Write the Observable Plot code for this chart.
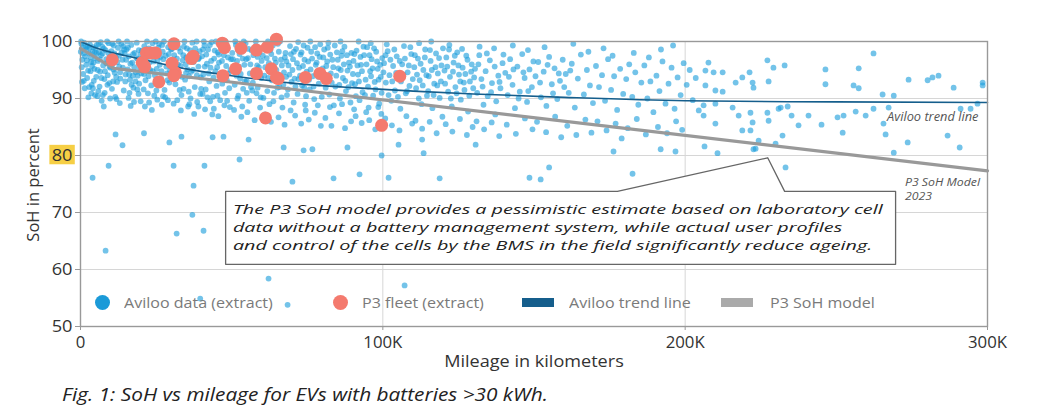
<!DOCTYPE html>
<html>
<head>
<meta charset="utf-8">
<script src="https://cdn.jsdelivr.net/npm/d3@7"></script>
<script src="https://cdn.jsdelivr.net/npm/@observablehq/plot@0.6"></script>
<style>
  html, body { margin: 0; padding: 0; background: #fff; }
  #wrap { position: relative; width: 1054px; height: 406px; font-family: "Open Sans", sans-serif; overflow: hidden; }
  .leg { position: absolute; top: 291px; height: 22px; line-height: 22px; font-size: 15px; color: #7a7a7a; white-space: nowrap; transform-origin: 0 50%; }
  .sw { position: absolute; }
  #caption { position: absolute; left: 62px; top: 382px; font-size: 18px; line-height: 24px; font-style: italic; color: #222; white-space: nowrap; transform-origin: 0 50%; }
  #ylab { position: absolute; left: -67px; top: 174px; width: 200px; text-align: center; font-size: 16.5px; line-height: 22px; color: #333; transform: rotate(-90deg); white-space: nowrap; }
</style>
</head>
<body>
<div id="wrap"></div>
<script>
// ---------------- DATA (mileage in thousand km, SoH in %) ----------------
const xTicks = [0, 100, 200, 300];
const yTicks = [50, 60, 70, 80, 90, 100];
const xGrid = [100, 200];
const yGrid = [60, 70, 80, 90];

const avilooDense = [
[0.3,99.6],[0.8,98.9],[1.2,99.8],[1.5,97.4],[2.0,98.6],[2.4,99.2],[0.6,96.8],[1.9,95.9],[2.8,97.9],[3.1,99.5],[3.5,96.4],[3.9,98.2],[4.2,99.0],[4.6,95.2],[4.9,97.1],[0.9,94.3],[2.2,93.6],[3.3,94.8],[4.4,93.1],[1.4,91.8],[3.7,92.4],[4.8,90.6],[2.6,90.2],[0.5,92.9],[5.0,98.8],
[5.4,99.4],[5.8,96.6],[6.1,98.1],[6.5,94.7],[6.8,97.6],[7.2,99.1],[7.5,95.8],[7.9,93.4],[8.3,98.5],[8.6,96.2],[9.0,94.1],[9.3,99.7],[9.7,97.3],[6.3,92.1],[8.0,91.0],[9.5,92.7],[5.6,90.4],[7.0,89.6],[9.9,95.4],[8.8,100.0],[6.7,99.9],[5.2,93.8],
[10.2,98.3],[10.6,96.0],[11.0,99.3],[11.3,94.5],[11.7,97.2],[12.1,92.9],[12.4,98.9],[12.8,95.6],[13.2,93.5],[13.5,99.6],[13.9,96.8],[14.3,91.4],[14.6,97.9],[11.5,90.3],[13.0,89.2],[14.9,94.2],[10.8,93.0],[12.6,100.0],[14.1,99.2],[10.4,91.7],
[15.2,98.6],[15.6,95.1],[16.0,97.4],[16.4,93.3],[16.8,99.4],[17.1,96.3],[17.5,91.9],[17.9,98.0],[18.3,94.6],[18.6,99.8],[19.0,96.9],[19.4,92.6],[19.8,97.7],[15.9,90.1],[17.7,89.4],[19.2,90.8],[16.6,88.7],[18.9,94.0],[15.4,100.0],[17.3,94.0],
[20.3,98.4],[20.7,95.7],[21.1,99.2],[21.5,93.2],[21.9,97.0],[22.3,90.9],[22.6,98.8],[23.0,95.0],[23.4,92.3],[23.8,99.7],[24.2,96.5],[24.6,94.1],[25.0,97.8],[25.4,89.8],[25.8,98.9],[26.2,95.9],[26.6,93.6],[27.0,99.4],[27.4,96.9],[27.8,91.5],[28.2,97.5],[28.6,94.4],[29.0,99.0],[29.4,92.8],[29.8,96.1],[21.3,88.6],[23.6,88.0],[26.9,88.9],[28.9,89.7],[22.0,100.0],[24.9,100.0],[27.6,100.0],[20.9,91.6],[25.6,93.0],[29.6,94.9],[22.8,96.3],[26.4,97.3],[24.4,90.5],[28.0,90.2],[20.1,94.4],
[30.2,98.7],[30.6,95.3],[31.0,97.6],[31.4,92.5],[31.8,99.5],[32.2,96.0],[32.6,94.0],[33.0,98.2],[33.4,90.6],[33.8,96.7],[34.2,99.1],[34.6,93.3],[35.0,97.2],[35.4,95.1],[35.8,91.2],[36.2,98.5],[36.6,94.7],[37.0,99.8],[37.4,96.4],[37.8,92.0],[38.2,97.9],[38.6,89.4],[39.0,95.6],[39.4,98.3],[39.8,93.7],[30.8,89.1],[33.2,87.9],[35.6,88.6],[37.6,87.3],[39.6,90.8],[31.6,100.0],[34.4,100.0],[38.4,100.0],[32.8,91.5],[36.4,90.0],[30.4,93.4],[34.9,94.5],[38.9,96.9],
[40.2,97.4],[40.6,94.2],[41.0,99.3],[41.4,91.6],[41.8,96.1],[42.2,98.6],[42.6,93.0],[43.0,95.4],[43.4,99.9],[43.8,90.3],[44.2,97.0],[44.6,94.8],[45.0,92.2],[45.4,98.1],[45.8,96.3],[46.2,89.7],[46.6,99.0],[47.0,93.9],[47.4,97.6],[47.8,91.0],[48.2,95.7],[48.6,98.8],[49.0,94.4],[49.4,88.5],[49.8,96.9],[41.2,88.1],[43.6,87.2],[45.6,86.9],[47.6,88.8],[49.2,91.8],[40.8,100.0],[44.8,100.0],[48.0,100.0],[42.9,89.5],[46.9,92.6],[40.4,90.8],
[50.2,98.0],[50.6,95.2],[51.0,92.4],[51.4,99.4],[51.8,96.6],[52.2,90.5],[52.6,97.8],[53.0,94.3],[53.4,98.9],[53.8,91.7],[54.2,95.9],[54.6,99.7],[55.0,93.1],[55.4,97.1],[55.8,89.6],[56.2,96.0],[56.6,98.4],[57.0,92.8],[57.4,94.9],[57.8,99.1],[58.2,90.9],[58.6,97.3],[59.0,95.5],[59.4,88.4],[59.8,93.6],[50.8,88.0],[53.2,86.8],[55.2,87.6],[57.6,86.2],[59.6,90.2],[51.2,100.0],[54.0,100.0],[58.0,100.0],[52.8,93.5],[56.8,91.4],
[60.3,97.5],[60.8,94.0],[61.3,99.0],[61.8,91.3],[62.3,96.2],[62.8,98.5],[63.3,93.2],[63.8,89.5],[64.3,97.0],[64.8,95.0],[65.3,99.6],[65.8,92.0],[66.3,96.8],[66.8,88.4],[67.3,94.6],[67.8,98.0],[68.3,90.6],[68.8,95.8],[69.3,99.2],[69.8,92.9],[61.0,87.2],[63.0,85.9],[65.5,86.7],[67.5,85.4],[69.5,87.9],[62.0,100.0],[66.0,100.0],[64.0,91.0],[68.0,93.8],[60.5,90.1],
[70.3,96.9],[70.8,93.5],[71.3,98.7],[71.8,90.8],[72.3,95.4],[72.8,97.7],[73.3,92.3],[73.8,99.3],[74.3,88.9],[74.8,94.7],[75.3,96.5],[75.8,91.6],[76.3,98.2],[76.8,93.9],[77.3,89.9],[77.8,95.9],[78.3,97.9],[78.8,92.6],[79.3,99.5],[79.8,90.3],[71.0,87.0],[73.0,85.6],[75.5,86.3],[77.5,87.5],[79.5,85.2],[72.0,99.9],[76.0,100.0],[74.0,91.9],[78.0,94.3],
[80.3,97.2],[80.8,93.0],[81.3,95.7],[81.8,98.9],[82.3,90.7],[82.8,94.4],[83.3,96.8],[83.8,88.8],[84.3,92.1],[84.8,98.1],[85.3,95.3],[85.8,90.0],[86.3,97.5],[86.8,93.6],[87.3,99.1],[87.8,91.3],[88.3,94.9],[88.8,96.3],[89.3,89.3],[89.8,92.7],[81.0,86.6],[83.0,85.2],[85.5,87.4],[87.5,84.8],[89.5,86.0],[82.0,99.8],[86.0,100.0],
[90.3,96.6],[90.8,92.5],[91.3,98.4],[91.8,94.2],[92.3,89.7],[92.8,95.9],[93.3,91.1],[93.8,97.6],[94.3,93.3],[94.8,99.0],[95.3,88.4],[95.8,94.8],[96.3,96.9],[96.8,90.5],[97.3,92.9],[97.8,98.2],[98.3,95.2],[98.8,89.1],[99.3,93.8],[99.8,97.1],[91.0,86.9],[93.0,85.7],[95.5,86.2],[97.5,84.6],[99.5,87.3],[92.0,100.0],[96.0,99.7],
[100.4,96.2],[101.0,92.8],[101.6,98.3],[102.2,94.1],[102.8,89.6],[103.4,95.7],[104.0,91.4],[104.6,97.4],[105.2,93.5],[105.8,88.2],[106.4,96.0],[107.0,99.2],[107.6,90.9],[108.2,94.6],[108.8,92.2],[109.4,97.8],[100.8,86.5],[103.0,85.3],[105.5,84.4],[107.8,86.9],[109.7,85.6],[101.3,99.5],[106.0,93.0],
[110.4,95.5],[111.0,91.8],[111.6,97.0],[112.2,93.2],[112.8,89.0],[113.4,95.0],[114.0,98.6],[114.6,90.5],[115.2,93.9],[115.8,96.6],[116.4,88.3],[117.0,92.6],[117.6,97.9],[118.2,94.4],[118.8,90.1],[119.4,95.8],[110.8,86.1],[113.0,84.7],[115.5,85.9],[117.8,83.9],[119.7,86.8],[112.0,99.7],[116.0,100.0],
[120.4,94.9],[121.0,97.2],[121.6,91.2],[122.2,93.8],[122.8,88.6],[123.4,96.3],[124.0,92.0],[124.6,98.1],[125.2,94.2],[125.8,89.8],[126.4,95.4],[127.0,91.5],[127.6,97.5],[128.2,87.7],[128.8,93.0],[129.4,96.0],[120.8,85.5],[123.0,84.2],[125.5,86.4],[127.8,83.6],[129.7,85.0],[122.0,99.4],
[130.5,95.2],[131.2,91.0],[131.9,97.6],[132.6,93.4],[133.3,88.9],[134.0,94.8],[134.7,90.4],[135.4,96.7],[136.1,92.7],[136.8,98.8],[137.5,89.5],[138.2,94.0],[138.9,91.8],[139.6,96.2],[131.0,86.0],[133.5,84.6],[136.0,85.8],[138.5,83.4],[132.0,99.1],[137.2,87.2],
[140.5,94.5],[141.3,90.6],[142.1,96.9],[142.9,92.4],[143.7,88.3],[144.5,95.6],[145.3,91.2],[146.1,97.8],[146.9,93.6],[147.7,89.4],[148.5,95.1],[149.3,92.0],[141.0,85.4],[144.0,83.8],[147.0,86.5],[149.5,84.6],[143.0,99.3],[148.0,98.5],
[150.5,93.9],[151.4,96.4],[152.3,90.2],[153.2,94.7],[154.1,88.7],[155.0,97.3],[155.9,92.5],[156.8,95.3],[157.7,89.9],[158.6,93.1],[159.5,96.8],[151.0,85.9],[154.0,84.1],[157.0,86.8],[159.0,83.2],[153.5,99.0],
[160.5,94.3],[161.5,91.0],[162.5,96.1],[163.5,88.4],[164.5,93.5],[165.5,97.7],[166.5,90.7],[167.5,95.0],[168.5,92.3],[169.5,89.2],[161.0,85.2],[164.0,83.6],[167.0,86.3],[169.0,84.0],[163.0,99.6],[168.0,98.2],
[170.5,95.7],[171.5,92.0],[172.5,94.1],[173.5,89.6],[174.5,96.9],[175.5,91.5],[176.5,93.9],[177.5,88.0],[178.5,95.2],[179.5,90.8],[171.0,86.0],[174.0,84.4],[177.0,85.6],[179.0,83.0],[173.0,98.8],[176.0,97.5],
[180.5,93.4],[181.5,96.0],[182.5,90.3],[183.5,94.6],[184.5,88.9],[185.5,92.8],[186.5,95.8],[187.5,90.0],[188.5,93.0],[189.5,87.6],[181.0,84.8],[184.0,86.4],[187.0,83.7],[183.0,98.0],[188.0,97.2],
[190.5,94.0],[191.5,91.3],[192.5,96.5],[193.5,89.1],[194.5,92.6],[195.5,95.4],[196.5,88.2],[197.5,93.7],[198.5,90.6],[199.5,96.2],[191.0,85.0],[194.0,83.9],[197.0,86.0],[199.0,84.5],[192.0,98.6],[196.0,99.3],
[200.5,92.4],[201.5,95.0],[202.5,89.7],[203.5,93.6],[204.5,87.9]
];

const avilooCore = [
[0.1,98.2],[0.4,95.5],[1.0,97.9],[1.7,99.0],[2.1,96.7],[2.5,94.9],[3.0,98.9],[3.4,97.2],[3.8,95.7],[4.3,96.3],[4.7,98.1],[0.2,100.0],[1.1,93.1],[2.9,92.0],[3.6,90.9],[4.1,91.8],[5.3,97.9],[5.7,95.0],[6.0,99.6],[6.4,96.9],[6.9,93.6],[7.3,97.9],[7.7,98.8],[8.1,94.8],[8.5,96.9],[8.9,92.4],[9.2,98.0],[9.6,95.6],[5.9,91.3],[7.4,90.6],[9.8,90.0],
[10.1,96.7],[10.5,99.6],[10.9,95.1],[11.2,97.9],[11.8,93.8],[12.2,96.4],[12.7,97.5],[13.1,94.6],[13.6,98.1],[14.0,95.4],[14.4,98.6],[14.8,93.0],[15.1,96.8],[15.7,98.9],[16.1,94.2],[16.5,96.1],[16.9,92.4],[17.4,97.8],[17.8,95.5],[18.2,93.0],[18.5,97.1],[18.8,91.6],[19.3,98.5],[19.7,95.3],[11.9,89.9],[16.2,91.0],[19.9,89.5],
[20.5,97.1],[21.0,94.3],[21.7,98.0],[22.1,95.9],[22.5,93.9],[23.2,97.4],[23.9,94.8],[24.3,98.6],[25.2,95.2],[25.5,96.8],[26.0,99.6],[26.8,94.8],[27.2,98.2],[28.4,95.6],[28.8,93.2],[29.2,97.8],[29.9,98.6],[30.5,96.8],[31.1,94.0],[31.9,97.0],[32.4,98.9],[33.1,95.7],[33.6,93.8],[34.0,97.6],[34.8,96.0],[35.2,98.8],[35.9,93.9],[36.8,97.4],[37.2,95.0],[37.9,98.8],[38.5,94.1],[39.2,97.1],[39.9,91.7],[22.7,89.3],[27.3,90.4],[32.0,89.7],[36.0,89.0],[39.0,88.6],[25.1,91.4],[34.1,91.7],
[40.5,98.6],[41.1,95.6],[41.6,97.7],[42.4,94.4],[42.8,99.4],[43.2,96.6],[44.0,93.7],[44.4,98.4],[45.2,95.5],[45.7,97.7],[46.4,94.4],[46.8,96.6],[47.2,99.4],[48.4,93.2],[48.8,97.2],[49.6,95.0],[50.4,96.9],[51.6,94.0],[52.0,98.6],[52.4,95.6],[53.6,97.0],[54.4,93.0],[54.8,96.9],[55.6,98.7],[56.0,94.4],[56.4,92.0],[57.2,97.6],[58.4,95.8],[58.8,93.8],[59.2,98.1],[59.9,96.6],[42.0,90.2],[45.3,90.5],[48.5,89.6],[51.9,90.0],[55.0,91.0],[58.6,91.9],[44.1,88.2],[53.5,88.6],
[60.6,98.8],[61.1,95.5],[61.6,97.1],[62.1,93.6],[62.6,95.2],[63.1,97.8],[63.6,99.3],[64.1,94.4],[64.6,96.3],[65.1,91.9],[65.6,98.2],[66.1,94.0],[66.6,95.8],[67.1,92.4],[67.6,97.2],[68.1,96.5],[68.6,91.6],[69.1,94.2],[69.6,97.8],[70.1,95.0],[70.6,98.2],[71.1,92.1],[71.6,96.2],[72.1,93.4],[72.6,94.0],[73.1,98.1],[73.6,95.7],[74.1,96.8],[74.6,90.4],[75.1,98.9],[75.6,93.3],[76.1,95.1],[76.6,97.0],[77.1,92.1],[77.6,99.0],[78.1,96.3],[78.6,93.8],[79.1,97.3],[79.6,94.9],[62.5,89.0],[66.5,90.2],[70.5,89.3],[74.5,87.9],[78.5,88.8],
[80.1,95.3],[80.6,98.6],[81.1,91.9],[81.6,96.5],[82.1,94.0],[82.6,97.7],[83.1,92.8],[83.6,95.5],[84.1,99.3],[84.6,94.0],[85.1,96.8],[85.6,92.4],[86.1,95.0],[86.6,98.3],[87.1,96.0],[87.6,93.1],[88.1,97.6],[88.6,92.0],[89.1,95.6],[89.6,98.0],[90.1,94.3],[90.6,97.8],[91.1,90.4],[91.6,95.8],[92.1,93.0],[92.6,97.3],[93.1,94.8],[93.6,99.1],[94.1,90.6],[94.6,96.0],[95.1,92.1],[95.6,97.6],[96.1,93.9],[96.6,95.3],[97.1,98.8],[97.6,91.6],[98.1,96.5],[98.6,93.3],[99.1,95.9],[99.6,91.0],[82.5,88.5],[86.5,89.0],[90.5,88.1],[94.5,87.6],[98.5,88.5],
[100.2,94.6],[100.9,97.6],[101.9,90.6],[102.5,96.8],[103.1,93.0],[103.8,98.6],[104.4,94.5],[105.0,90.3],[105.6,96.6],[106.8,94.2],[107.3,97.0],[108.0,91.3],[108.6,95.8],[109.1,99.0],[109.9,93.4],[110.6,97.6],[111.3,94.2],[111.9,90.0],[112.5,96.1],[113.2,92.3],[113.9,97.2],[114.4,94.1],[115.0,91.3],[115.6,98.5],[116.2,95.0],[116.8,90.6],[117.4,95.5],[118.0,92.3],[118.6,97.1],[119.2,93.0],[119.9,98.8],[120.6,92.6],[121.3,95.6],[121.9,98.6],[122.5,90.0],[123.2,94.7],[123.8,97.5],[124.4,90.9],[125.0,95.8],[125.6,93.0],[126.2,98.7],[126.8,92.8],[127.3,94.3],[128.0,96.8],[128.6,90.5],[129.2,94.7],[129.9,91.8],
[130.2,93.7],[131.6,96.0],[133.0,92.1],[134.4,97.9],[135.8,91.1],[137.0,95.6],[138.6,92.9],[139.9,97.7],[141.7,93.8],[143.2,95.1],[144.9,90.0],[146.5,94.6],[148.1,91.3],[149.8,96.5],[152.0,92.8],[154.5,95.9],[156.3,90.9],[158.2,94.4],[160.0,92.0],[162.0,94.9]
];

const avilooSparse = [
[206.7,94.9],[209.4,94.6],[212.4,94.6],[206.7,92.3],[210.0,91.4],[212.4,91.2],[216.7,92.8],[218.9,93.7],[221.3,94.6],[222.3,92.8],[222.6,91.9],[227.2,96.7],[229.2,95.4],[232.9,95.8],[227.6,93.0],[246.4,95.1],[246.4,92.5],[257.4,95.3],[262.3,97.9],[255.7,92.3],[257.4,91.8],[265.3,90.7],[269.0,90.5],[273.9,93.3],[280.2,93.2],[281.8,93.7],[283.8,94.0],[288.8,91.9],[298.4,92.8],[298.4,92.3],[207.7,96.3],
[206.1,88.8],[210.0,89.1],[206.1,87.0],[210.0,85.6],[215.7,88.4],[217.7,87.0],[218.9,84.4],[221.6,87.5],[222.3,85.8],[221.6,84.4],[227.2,87.5],[230.9,88.2],[231.6,88.4],[233.9,88.6],[235.2,87.0],[227.6,86.1],[232.2,83.5],[224.3,82.6],[229.9,82.1],[237.5,85.3],[240.8,87.0],[245.1,85.4],[250.4,86.7],[252.1,84.0],[252.4,87.0],[256.4,87.7],[259.7,87.0],[262.3,88.2],[265.6,85.6],[266.3,83.7],[267.3,88.4],[273.6,82.3],[269.0,80.5],[286.8,83.5],[290.8,81.4],[291.1,88.2],[294.4,88.2],[296.7,89.1],[210.7,80.4],[223.3,81.2],
[233.2,77.9],[206.4,81.6],[222.6,81.1],[182.6,76.8],[176.3,80.7],[191.9,81.1],[196.8,80.7],
[7.7,88.6],[11.6,83.7],[13.9,81.8],[21.0,83.9],[29.4,82.3],[33.4,83.3],[9.3,78.2],[4.0,76.1],[30.8,78.2],[41.0,78.2],[37.4,74.7],[52.6,79.3],[43.7,83.2],[47.3,83.3],[55.6,82.8],[67.2,81.4],[73.8,80.9],[76.7,81.1],[88.3,81.4],[70.1,75.4],[83.7,76.0],[92.3,76.7],[101.9,76.1],[118.8,76.0],[99.6,80.0],[105.2,81.9],[113.5,80.4],[113.0,82.8],[130.7,81.9],[148.5,76.1],[152.2,75.8],[155.0,77.9],
[37.0,69.6],[31.8,66.3],[40.7,66.8],[8.3,63.3],[62.2,58.4],[107.2,57.2],[39.6,54.9],[68.5,53.8]
];

const p3Fleet = [
[10.5,96.8],[20.4,96.3],[21.2,95.6],[21.8,98.0],[23.3,98.0],[24.8,98.0],[25.9,92.9],[30.9,99.6],[30.3,96.2],[31.4,94.5],[30.9,94.0],
[36.7,97.0],[37.3,97.4],[46.9,99.7],[47.6,98.9],[47.1,94.0],[51.3,95.2],[53.1,98.8],[58.2,98.5],[58.2,94.4],[61.8,99.0],[63.1,95.2],
[64.8,100.4],[64.8,93.7],[65.4,93.5],[61.2,86.6],[74.4,93.7],[79.2,94.4],[81.3,93.5],[99.6,85.3],[105.6,93.9]
];

const avilooTrend = [
[0,100],[5,98.9],[10,98.1],[15,97.5],[25,96.3],[35,95.2],[50,94.0],[70,92.7],[90,91.9],[110,91.3],[130,90.8],[160,90.2],[200,89.6],[250,89.4],[300,89.3]
];
const p3Model = [[0,98.8],[11,95.3],[300,77.3]];

const calloutShape = [[48,73.7],[177.6,73.7],[227.3,79.6],[232.9,73.7],[269.6,73.7],[269.6,60.9],[48,60.9]];
const calloutLines = [
  [50.4, 70.5, "The P3 SoH model provides a pessimistic estimate based on laboratory cell"],
  [50.4, 67.35, "data without a battery management system, while actual user profiles"],
  [50.4, 64.2, "and control of the cells by the BMS in the field significantly reduce ageing."]
];
const trendLabel = [[297, 86.8, "Aviloo trend line"]];
const modelLabel = [[272.7, 75.3, "P3 SoH Model"], [272.7, 72.9, "2023"]];

const legendItems = [
  {label: "Aviloo data (extract)", kind: "dot", color: "#1b9ad8", left: 95, text: 124},
  {label: "P3 fleet (extract)", kind: "dot", color: "#f47a6e", left: 333, text: 362},
  {label: "Aviloo trend line", kind: "bar", color: "#155e8c", left: 522, text: 569},
  {label: "P3 SoH model", kind: "bar", color: "#aaaaaa", left: 721, text: 770}
];

// ---------------- CHART ----------------
const FONT = "Open Sans, sans-serif";
const chart = Plot.plot({
  width: 1054,
  height: 372,
  marginLeft: 80,
  marginRight: 67,
  marginTop: 41,
  marginBottom: 46,
  style: {fontFamily: FONT, fontSize: "16px", color: "#333", background: "#fff", overflow: "visible"},
  x: {domain: [0, 300]},
  y: {domain: [50, 100]},
  marks: [
    Plot.gridY(yGrid, {stroke: "#d6d6d6", strokeOpacity: 1}),
    Plot.gridX(xGrid, {stroke: "#d6d6d6", strokeOpacity: 1}),
    Plot.dot(avilooDense.concat(avilooCore, avilooSparse), {x: d => d[0], y: d => d[1], r: 2.9, fill: "#1d9edc", fillOpacity: 0.62, stroke: "none"}),
    Plot.line(p3Model, {x: d => d[0], y: d => d[1], stroke: "#999", strokeWidth: 3.2}),
    Plot.line(avilooTrend, {x: d => d[0], y: d => d[1], stroke: "#155e8c", strokeWidth: 1.6, curve: "monotone-x"}),
    Plot.dot(p3Fleet, {x: d => d[0], y: d => d[1], r: 6.5, fill: "#f47a6e", stroke: "none"}),
    Plot.line(calloutShape, {x: d => d[0], y: d => d[1], curve: "linear-closed", fill: "white", stroke: "#666", strokeWidth: 1.3}),
    Plot.text(calloutLines, {x: d => d[0], y: d => d[1], text: d => d[2], textAnchor: "start", fontSize: 13.4, fontStyle: "italic", fill: "#222", className: "callout"}),
    Plot.text(trendLabel, {x: d => d[0], y: d => d[1], text: d => d[2], textAnchor: "end", fontSize: 12, fontStyle: "italic", fill: "#555", className: "linelab"}),
    Plot.text(modelLabel, {x: d => d[0], y: d => d[1], text: d => d[2], textAnchor: "start", fontSize: 11.5, fontStyle: "italic", fill: "#555", className: "linelab"}),
    Plot.frame({stroke: "#999", strokeWidth: 1.4}),
    Plot.axisY(yTicks, {tickSize: 5, tickPadding: 3, fontSize: 16, stroke: "#999", fill: "#333", label: null}),
    Plot.axisX(xTicks, {tickSize: 4, tickPadding: 6, fontSize: 16, stroke: "#999", fill: "#333", tickFormat: d => d === 0 ? "0" : d + "K", label: "Mileage in kilometers", labelAnchor: "center", labelArrow: "none", labelOffset: 40})
  ]
});

const wrap = document.getElementById("wrap");
wrap.appendChild(chart);

// widen texts horizontally about their anchor point (the reference uses a wide geometric face)
function widen(nodes, k) {
  nodes.forEach(n => {
    const x = +n.getAttribute("x") || 0, y = +n.getAttribute("y") || 0;
    const t = n.getAttribute("transform") || "";
    n.setAttribute("transform", `${t} translate(${x},${y}) scale(${k},1) translate(${-x},${-y})`);
  });
}
const q = sel => Array.from(chart.querySelectorAll(sel));
const calloutNodes = q(".callout text");
widen(calloutNodes, 650 / calloutNodes[0].getComputedTextLength());
widen(q(".linelab text"), 1.07);
widen(q('g[aria-label="y-axis tick label"] text'), 1.14);
widen(q('g[aria-label="x-axis tick label"] text'), 1.05);
widen(q('g[aria-label="x-axis label"] text'), 1.13);

// yellow highlight behind the "80" tick label
q('g[aria-label="y-axis tick label"] text').forEach(function(el) {
  if (el.textContent.trim() === "80") {
    const b = el.getBBox();
    const r = document.createElementNS("http://www.w3.org/2000/svg", "rect");
    r.setAttribute("x", b.x - 2);
    r.setAttribute("y", b.y + 1);
    r.setAttribute("width", b.width + 4);
    r.setAttribute("height", b.height - 2);
    r.setAttribute("fill", "#f6cf45");
    const t = el.getAttribute("transform");
    if (t) r.setAttribute("transform", t);
    el.parentNode.insertBefore(r, el);
  }
});

// y axis title
const ylab = document.createElement("div");
ylab.id = "ylab";
ylab.textContent = "SoH in percent";
wrap.appendChild(ylab);

// legend (inside plot area, as HTML overlay)
for (const it of legendItems) {
  const sw = document.createElement("div");
  sw.className = "sw";
  if (it.kind === "dot") {
    Object.assign(sw.style, {left: it.left + "px", top: "295px", width: "15px", height: "15px", borderRadius: "50%", background: it.color});
  } else {
    Object.assign(sw.style, {left: it.left + "px", top: "298px", width: "32px", height: "9px", background: it.color});
  }
  wrap.appendChild(sw);
  const lab = document.createElement("div");
  lab.className = "leg";
  lab.style.left = it.text + "px";
  lab.style.transform = "scaleX(1.07)";
  lab.textContent = it.label;
  wrap.appendChild(lab);
}

const cap = document.createElement("div");
cap.id = "caption";
cap.textContent = "Fig. 1: SoH vs mileage for EVs with batteries >30 kWh.";
wrap.appendChild(cap);
const cw = cap.getBoundingClientRect().width;
cap.style.transform = "scaleX(" + (486 / cw) + ")";
</script>
</body>
</html>
